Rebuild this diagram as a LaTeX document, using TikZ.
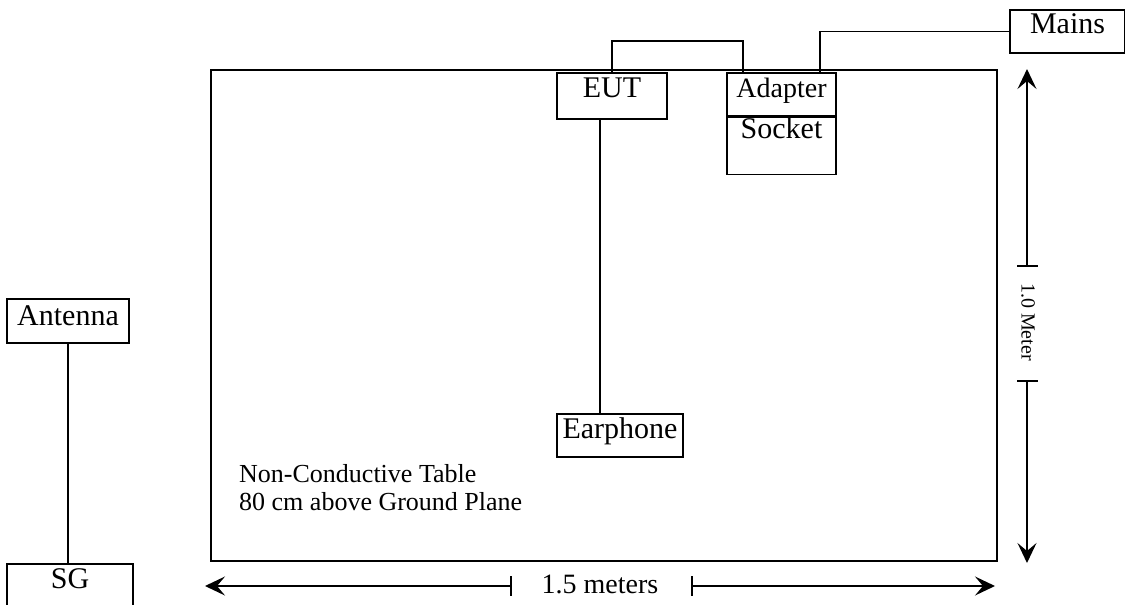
\documentclass[tikz,border=0pt]{standalone}
\usepackage{fontspec}
\setmainfont{Liberation Serif}
\usepackage{tikz}
\usetikzlibrary{arrows.meta, positioning, calc}

\begin{document}
\begin{tikzpicture}[
        x=1pt, y=-1pt,
        box/.style={rectangle, draw, line width=1.6pt, inner sep=0pt, font=\fontsize{30}{34}\selectfont},
        wire/.style={line width=1.6pt},
        dimline/.style={-{Stealth[length=20pt, width=19pt, inset=8pt]}, line width=1.6pt}
    ]
        \clip (0,0) rectangle (1125,605);
        % table and its label
        \node[rectangle, draw, line width=1.6pt, inner sep=0pt, minimum width=786pt, minimum height=491pt] (table) at (604,315.5) {};
        \node[anchor=base west, inner sep=0pt, align=left, font=\fontsize{26}{28}\selectfont] (tablenote) at (239,510) {Non-Conductive Table\\80 cm above Ground Plane};
        % equipment
        \node[box, minimum width=110pt, text height=24pt, text depth=22pt] (eut) at (612,96) {EUT};
        \node[box, minimum width=126pt, text height=24pt, text depth=19pt] (earphone) at (620,435.5) {Earphone};
        \node[box, minimum width=109pt, text height=24pt, text depth=19pt, font=\fontsize{28}{32}\selectfont] (adapter) at (781.5,94.5) {Adapter};
        \node[box, minimum width=109pt, text height=21pt, text depth=36pt, below=0pt of adapter] (socket) {Socket};
        \node[box, minimum width=115pt, text height=23pt, text depth=20pt] (mains) at (1067.5,31.5) {Mains};
        \node[box, minimum width=122pt, text height=26pt, text depth=18pt] (antenna) at (68,321) {Antenna};
        \node[box, minimum width=126pt, text height=24pt, text depth=36pt] (sg) at (70,594) {SG};
        % cables
        \coordinate (eutout) at ($(eut.south west)+(44,0)$);
        \draw[wire] (eutout) -- (eutout |- earphone.north);
        \draw[wire] (eut.north) |- (612,41) -| ($(adapter.north west)+(17,0)$);
        \draw[wire] (mains.west) -| ($(adapter.north east)+(-17,0)$);
        \draw[wire] (antenna.south) -- (antenna.south |- sg.north);
        % 1.0 Meter
        \node[rotate=-90, inner sep=0pt, font=\fontsize{20}{24}\selectfont] (vlabel) at (1028,322) {1.0 Meter};
        \coordinate (vtop) at (1027,266);
        \coordinate (vbot) at (1027,381);
        \coordinate (vtip1) at (1027,69);
        \coordinate (vtip2) at (1027,563);
        \draw[dimline] (vtop) -- (vtip1);
        \draw[dimline] (vbot) -- (vtip2);
        \draw[line width=1.5pt] ($(vtop)+(-10,0)$) -- ($(vtop)+(11,0)$);
        \draw[line width=1.5pt] ($(vbot)+(-10,0)$) -- ($(vbot)+(11,0)$);
        % 1.5 meters
        \node[inner sep=0pt, font=\fontsize{28}{32}\selectfont] (hlabel) at (600,584) {1.5 meters};
        \coordinate (hleft) at (511,586);
        \coordinate (hright) at (692,586);
        \coordinate (htip1) at (205,586);
        \coordinate (htip2) at (995,586);
        \draw[dimline] (hleft) -- (htip1);
        \draw[dimline] (hright) -- (htip2);
        \draw[line width=1.5pt] ($(hleft)+(0,-10)$) -- ($(hleft)+(0,10)$);
        \draw[line width=1.5pt] ($(hright)+(0,-10)$) -- ($(hright)+(0,10)$);
    \end{tikzpicture}
\end{document}
